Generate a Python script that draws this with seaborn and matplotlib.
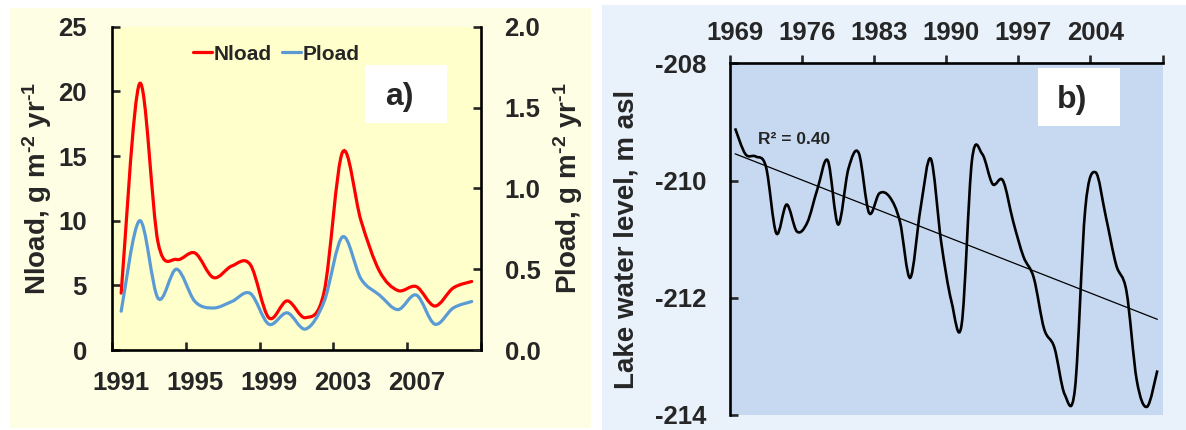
import numpy as np
import matplotlib.pyplot as plt
import matplotlib.patches as mpatches
from matplotlib.path import Path
from matplotlib.lines import Line2D
import seaborn as sns

sns.set_style("ticks")
plt.rcParams['font.family'] = ['Liberation Sans', 'DejaVu Sans']
plt.rcParams['font.weight'] = 'bold'
plt.rcParams['axes.unicode_minus'] = False
plt.rcParams['mathtext.fontset'] = 'custom'
plt.rcParams['mathtext.rm'] = 'Liberation Sans:bold'
plt.rcParams['mathtext.bf'] = 'Liberation Sans:bold'
plt.rcParams['mathtext.default'] = 'bf'

# panel a: nutrient loads
years_a = np.arange(1991, 2011)
nload = [4.4, 20.6, 8.3, 7.0, 7.5, 5.6, 6.5, 6.6, 2.5, 3.8,
         2.5, 4.5, 15.3, 10.0, 6.1, 4.6, 4.9, 3.4, 4.8, 5.3]
pload = [0.24, 0.80, 0.32, 0.50, 0.30, 0.26, 0.30, 0.35, 0.16, 0.23,
         0.13, 0.30, 0.70, 0.44, 0.34, 0.25, 0.34, 0.16, 0.26, 0.30]
xlabels_a = ["1991", "1995", "1999", "2003", "2007"]

# panel b: lake water level
years_b = np.arange(1969, 2011)
level = [-209.11, -209.55, -209.59, -209.77, -210.90, -210.41, -210.87, -210.72,
         -210.14, -209.66, -210.75, -209.80, -209.53, -210.55, -210.22, -210.28,
         -210.70, -211.66, -210.48, -209.63, -211.04, -212.06, -212.45, -209.65,
         -209.55, -210.06, -210.00, -210.70, -211.30, -211.66, -212.53, -212.85,
         -213.65, -213.55, -210.48, -209.86, -210.62, -211.44, -211.89, -213.41,
         -213.86, -213.24]
xlabels_b = ["1969", "1976", "1983", "1990", "1997", "2004"]
r2_text = "R² = 0.40"


def smooth_path(x, y):
    # Excel-like smoothed line: cubic bezier through the points
    x = np.asarray(x, float)
    y = np.asarray(y, float)
    px = np.r_[x[0], x, x[-1]]
    py = np.r_[y[0], y, y[-1]]
    verts = [(x[0], y[0])]
    codes = [Path.MOVETO]
    for i in range(1, len(x)):
        c1 = (px[i] + (px[i + 1] - px[i - 1]) / 6, py[i] + (py[i + 1] - py[i - 1]) / 6)
        c2 = (px[i + 1] - (px[i + 2] - px[i]) / 6, py[i + 1] - (py[i + 2] - py[i]) / 6)
        verts += [c1, c2, (px[i + 1], py[i + 1])]
        codes += [Path.CURVE4] * 3
    return Path(verts, codes)


fig = plt.figure(figsize=(11.86, 4.30), dpi=100)
fig.patch.set_facecolor('white')
fig.patches.append(mpatches.Rectangle((0.0084, 0.005), 0.49, 0.976, transform=fig.transFigure,
                                      facecolor='#FEFEE4', edgecolor='none', zorder=-10))
fig.patches.append(mpatches.Rectangle((0.5076, 0.0), 0.4924, 0.988, transform=fig.transFigure,
                                      facecolor='#E9F1FA', edgecolor='none', zorder=-10))

tick_fs = 18.5
label_fs = 20
spine_w = 1.9
hy = "\u2010"

# ---- panel a ----
ax = fig.add_axes([0.0944, 0.186, 0.3111, 0.752])
ax.set_facecolor('#FFFFCC')
ax2 = ax.twinx()

ax.add_patch(mpatches.PathPatch(smooth_path(years_a, nload), fill=False,
                                edgecolor='#FF0000', lw=2.3, capstyle='round'))
ax2.add_patch(mpatches.PathPatch(smooth_path(years_a, pload), fill=False,
                                 edgecolor='#5B9BD5', lw=2.3, capstyle='round'))

ax.set_xlim(1990.5, 2010.5)
ax.set_ylim(0, 25)
ax2.set_ylim(0, 2.0)
ax.set_yticks([0, 5, 10, 15, 20, 25])
ax2.set_yticks([0, 0.5, 1.0, 1.5, 2.0])
ax2.set_yticklabels(["0.0", "0.5", "1.0", "1.5", "2.0"])
ax.set_xticks(np.arange(1990.5, 2011, 4))
ax.set_xticklabels([])
ax.set_xticks([int(s) for s in xlabels_a], minor=True)
ax.set_xticklabels(xlabels_a, minor=True)

ax.tick_params(axis='x', which='major', direction='in', length=6, width=spine_w)
ax.tick_params(axis='x', which='minor', length=0, pad=15, labelsize=tick_fs)
ax.tick_params(axis='y', direction='in', length=6, width=spine_w, pad=18, labelsize=tick_fs)
ax2.tick_params(axis='y', direction='in', length=6, width=spine_w, pad=17, labelsize=tick_fs)

for s in ['top', 'right']:
    ax.spines[s].set_visible(False)
for s in ['top', 'left', 'bottom']:
    ax2.spines[s].set_visible(False)
for s in ['left', 'bottom']:
    ax.spines[s].set_linewidth(spine_w)
    ax.spines[s].set_color('black')
ax2.spines['right'].set_linewidth(spine_w)
ax2.spines['right'].set_color('black')

ax.set_ylabel("Nload, g m$^{" + hy + "2}$ yr$^{" + hy + "1}$", fontsize=label_fs, fontweight='bold')
ax2.set_ylabel("Pload, g m$^{" + hy + "2}$ yr$^{" + hy + "1}$", fontsize=label_fs,
               fontweight='bold', rotation=90)
ax.yaxis.set_label_coords(-0.158, 0.5)
ax2.yaxis.set_label_coords(1.19, 0.5)

handles = [Line2D([], [], color='#FF0000', lw=2.3), Line2D([], [], color='#5B9BD5', lw=2.3)]
ax.legend(handles, ["Nload", "Pload"], ncol=2, frameon=False, loc='center',
          bbox_to_anchor=(0.446, 0.915), handlelength=0.9, handletextpad=0.1,
          columnspacing=0.5, prop={'size': 15, 'weight': 'bold'})

ax.add_patch(mpatches.Rectangle((0.686, 0.702), 0.222, 0.179, transform=ax.transAxes,
                                facecolor='white', edgecolor='none', zorder=3))
ax.text(0.779, 0.783, "a)", transform=ax.transAxes, fontsize=23, fontweight='bold',
        ha='center', va='center', zorder=4)

# ---- panel b ----
bx = fig.add_axes([0.6155, 0.035, 0.3647, 0.8178])
bx.set_facecolor('#C6D9F1')
bx.add_patch(mpatches.PathPatch(smooth_path(years_b, level), fill=False,
                                edgecolor='black', lw=1.9))
sns.regplot(x=years_b, y=np.asarray(level), ax=bx, scatter=False, ci=None, truncate=True,
            line_kws=dict(color='black', lw=0.9))

bx.set_xlim(1968.5, 2010.5)
bx.set_ylim(-214, -208)
bx.set_yticks([-214, -212, -210, -208])
bx.xaxis.tick_top()
bx.set_xticks(np.arange(1968.5, 2011, 7))
bx.set_xticklabels([])
bx.set_xticks([int(s) for s in xlabels_b], minor=True)
bx.set_xticklabels(xlabels_b, minor=True)
bx.tick_params(axis='x', which='both', top=True, bottom=False, labeltop=True, labelbottom=False)
bx.tick_params(axis='x', which='major', direction='out', length=6, width=spine_w)
bx.tick_params(axis='x', which='minor', length=0, pad=13, labelsize=tick_fs)
bx.tick_params(axis='y', direction='in', length=6, width=spine_w, pad=17, labelsize=tick_fs)
bx.set_xlabel("")
bx.set_ylabel("Lake water level, m asl", fontsize=label_fs, fontweight='bold')
bx.yaxis.set_label_coords(-0.21, 0.5)
for s in ['right', 'bottom']:
    bx.spines[s].set_visible(False)
for s in ['left', 'top']:
    bx.spines[s].set_linewidth(spine_w)
    bx.spines[s].set_color('black')

bx.text(0.065, 0.784, r2_text, transform=bx.transAxes, fontsize=12.5, fontweight='bold',
        ha='left', va='center')
bx.add_patch(mpatches.Rectangle((0.712, 0.823), 0.19, 0.163, transform=bx.transAxes,
                                facecolor='white', edgecolor='none', zorder=3))
bx.text(0.792, 0.897, "b)", transform=bx.transAxes, fontsize=23, fontweight='bold',
        ha='center', va='center', zorder=4)

fig.savefig("out.png", dpi=100, facecolor=fig.get_facecolor())
